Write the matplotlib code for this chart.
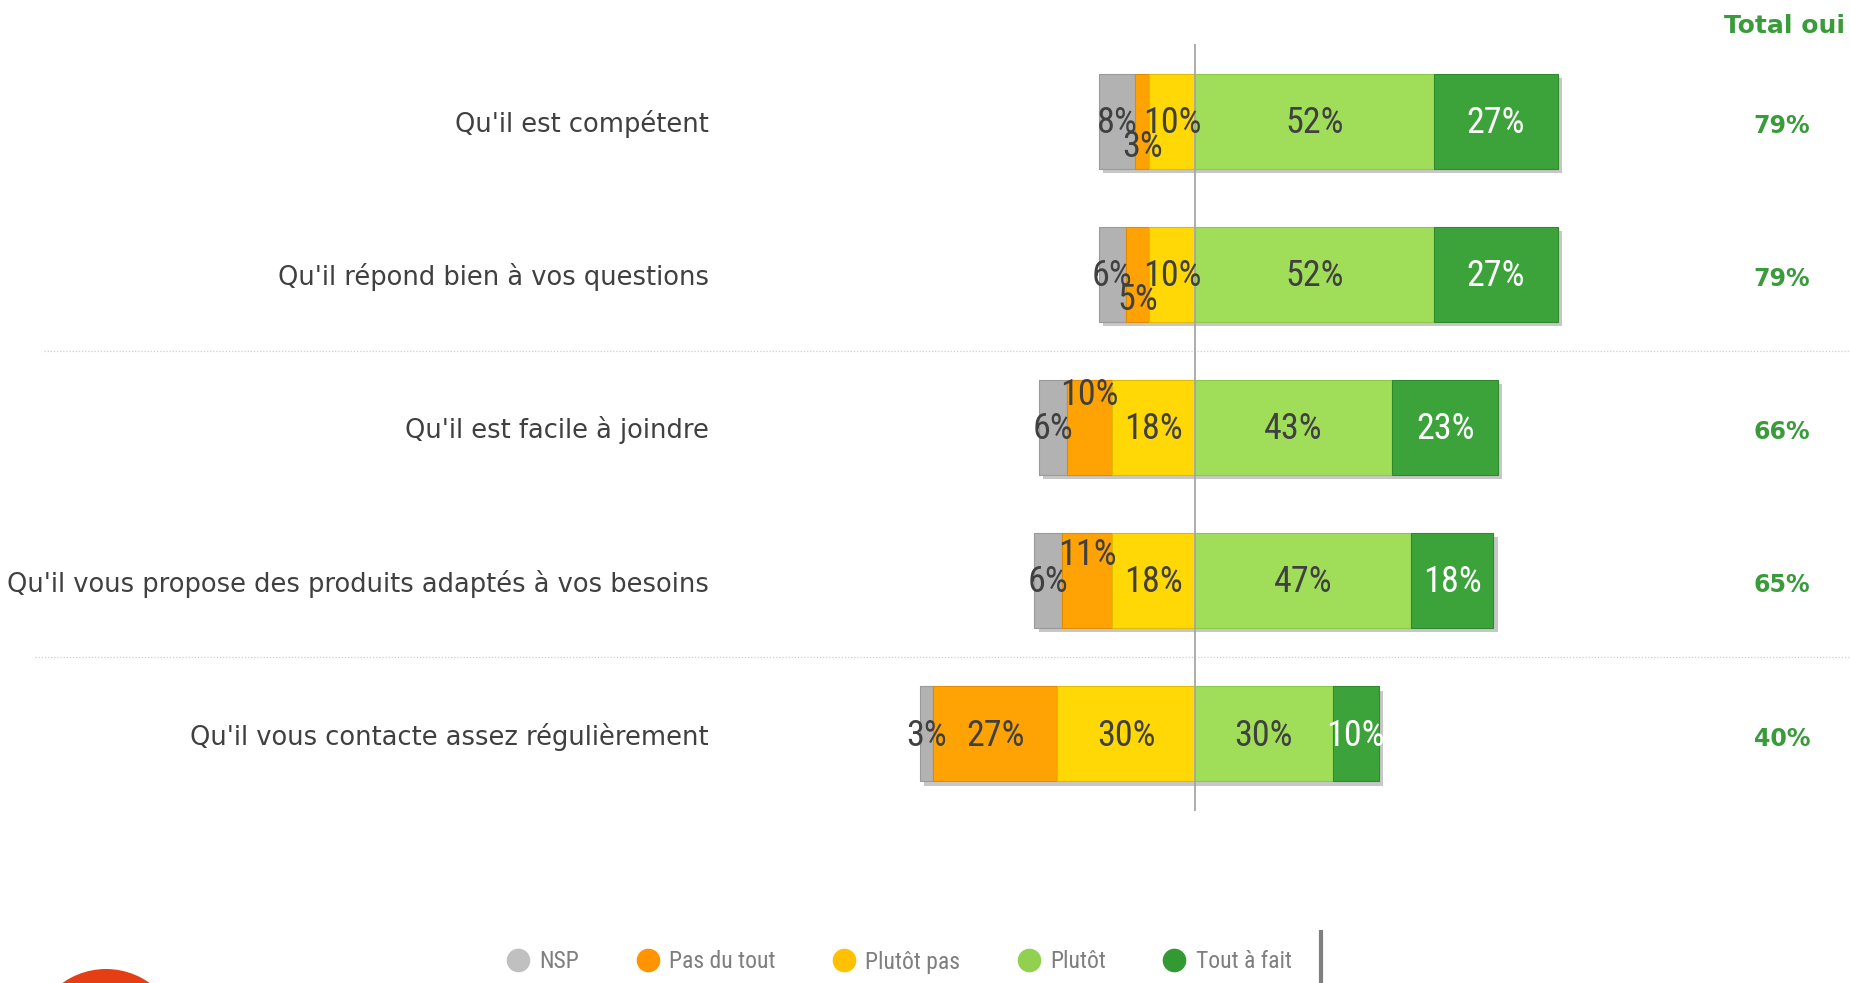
import matplotlib
matplotlib.use("Agg")
import matplotlib.pyplot as plt
from matplotlib import font_manager
from matplotlib.lines import Line2D
from matplotlib.patches import Ellipse
import matplotlib.patheffects as pe
import matplotlib.transforms as mtransforms

# ---------------- data ----------------
categories = [
    "Qu'il est compétent",
    "Qu'il répond bien à vos questions",
    "Qu'il est facile à joindre",
    "Qu'il vous propose des produits adaptés à vos besoins",
    "Qu'il vous contacte assez régulièrement",
]
series_names = ["NSP", "Pas du tout", "Plutôt pas", "Plutôt", "Tout à fait"]
nsp = [8, 6, 6, 6, 3]
pas_du_tout = [3, 5, 10, 11, 27]
plutot_pas = [10, 10, 18, 18, 30]
plutot = [52, 52, 43, 47, 30]
tout_a_fait = [27, 27, 23, 18, 10]
total_oui = [79, 79, 66, 65, 40]

colors = ["#B2B2B2", "#FFA305", "#FFD805", "#A0DE5A", "#3CA33A"]
edge_colors = ["#9A9A9A", "#E08C00", "#E0BC00", "#8CC84A", "#2F8A2E"]
legend_colors = ["#C0C0C0", "#FF9400", "#FFC000", "#92D050", "#339933"]
label_colors = ["#404040", "#404040", "#404040", "#404040", "#FFFFFF"]
green_txt = "#3A9B3A"

# vertical offsets (in category units) of the small "Pas du tout" labels
pdt_label_offsets = [0.16, 0.16, -0.22, -0.18, 0.0]

# ---------------- fonts ----------------
avail = {f.name for f in font_manager.fontManager.ttflist}
cond_font = None
for cand in ["Roboto Condensed", "Liberation Sans Narrow", "Open Sans Condensed",
             "DejaVu Sans"]:
    if cand in avail:
        cond_font = cand
        break
cond_stretch = "condensed"

W, H = 1850, 983
fig = plt.figure(figsize=(W / 100, H / 100), dpi=100)
fig.patch.set_facecolor("white")

ax_left = 720 / W
ax_bottom = (H - 810.6) / H
ax_top = (H - 44.4) / H
ax = fig.add_axes([ax_left, ax_bottom, 1 - ax_left, ax_top - ax_bottom])
ax.set_xlim(-103.5, 142.7)
ax.set_ylim(4.5, -0.5)
for s in ax.spines.values():
    s.set_visible(False)
ax.set_xticks([])
ax.set_yticks(range(len(categories)))
ax.set_yticklabels(categories, fontsize=18.5, color="#404040", family="DejaVu Sans")
ax.tick_params(axis="y", length=0, pad=8)

ypos = list(range(len(categories)))
bar_h = 0.62

lefts = []
widths = []
for i in ypos:
    neg_total = nsp[i] + pas_du_tout[i] + plutot_pas[i]
    l = [-neg_total, -(pas_du_tout[i] + plutot_pas[i]), -plutot_pas[i], 0, plutot[i]]
    w = [nsp[i], pas_du_tout[i], plutot_pas[i], plutot[i], tout_a_fait[i]]
    lefts.append(l)
    widths.append(w)

shadow = [pe.SimplePatchShadow(offset=(3, -3), shadow_rgbFace="#000000", alpha=0.22), pe.Normal()]
for k in range(5):
    bars = ax.barh(ypos, [widths[i][k] for i in ypos], left=[lefts[i][k] for i in ypos],
                   height=bar_h, color=colors[k], edgecolor=edge_colors[k], linewidth=0.8,
                   zorder=2 + k * 0.01)
    for b in bars:
        b.set_path_effects(shadow)

ax.axvline(0, color="#A6A6A6", lw=1.3, zorder=5)

# value labels
for i in ypos:
    for k in range(5):
        v = widths[i][k]
        cx = lefts[i][k] + v / 2
        cy = i + (pdt_label_offsets[i] if k == 1 else 0)
        ax.text(cx, cy + 0.01, f"{v}%", ha="center", va="center", fontsize=26,
                family=cond_font, stretch=cond_stretch, color=label_colors[k], zorder=6)
    ax.text(127.9, i + 0.03, f"{total_oui[i]}%", ha="center", va="center", fontsize=17,
            fontweight="bold", color=green_txt, family="DejaVu Sans", zorder=6)

fig.text(1845 / W, (H - 26) / H, "Total oui", ha="right", va="center", fontsize=18,
         fontweight="bold", color=green_txt, family="DejaVu Sans")

# dotted separators spanning into the label area
trans = mtransforms.blended_transform_factory(fig.transFigure, ax.transData)
for yy, x0 in [(1.5, 44 / W), (3.5, 35 / W)]:
    ax.add_line(Line2D([x0, 1.0], [yy, yy], transform=trans, color="#CFCFCF",
                       lw=0.9, ls=(0, (1, 1.5)), clip_on=False, zorder=1))

# legend
handles = [Line2D([], [], marker="o", ls="", markersize=16, markerfacecolor=c,
                  markeredgecolor=c) for c in legend_colors]
leg = fig.legend(handles, series_names, loc="center", bbox_to_anchor=(899 / W, 21 / H),
                 ncol=5, frameon=False, handletextpad=0.4, columnspacing=2.4,
                 handlelength=1.0, prop={"family": cond_font, "stretch": cond_stretch, "size": 17})
for t in leg.get_texts():
    t.set_color("#7F7F7F")

# right grey bar near the legend
fig.add_artist(Line2D([1321 / W, 1321 / W], [0, 51 / H], color="#808080", lw=3))
# partial logo circle in the lower-left corner
fig.add_artist(Ellipse((106 / W, (H - 1044) / H), 150 / W, 150 / H, transform=fig.transFigure,
                       facecolor="#E63E14", edgecolor="none", clip_on=False))

fig.savefig("out.png", dpi=100, facecolor="white")
